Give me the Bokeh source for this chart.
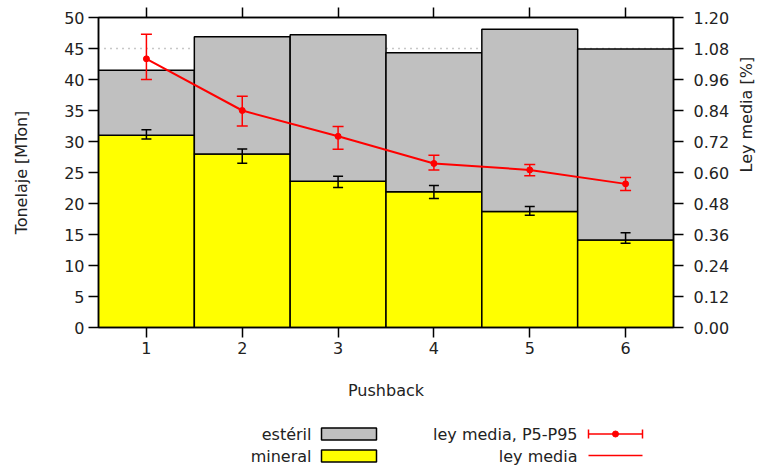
import math
from bokeh.plotting import figure
from bokeh.models import (Range1d, LinearAxis, FixedTicker, PrintfTickFormatter,
                          Span, Whisker, ColumnDataSource, TeeHead)
from bokeh.layouts import column
from bokeh.embed import file_html
from bokeh.resources import INLINE
from bokeh.core.properties import value

# Tonnage per pushback (Mt) and mean grade (%), with P5-P95 ranges
pushback = [1, 2, 3, 4, 5, 6]
mineral = [31.0, 28.0, 23.6, 21.9, 18.7, 14.1]
esteril = [10.5, 18.9, 23.6, 22.4, 29.4, 30.8]
mineral_p5 = [30.4, 26.5, 22.6, 20.8, 18.1, 13.6]
mineral_p95 = [31.9, 28.8, 24.4, 22.9, 19.5, 15.3]
ley_media = [1.04, 0.84, 0.74, 0.635, 0.61, 0.556]
ley_p5 = [0.96, 0.78, 0.69, 0.61, 0.587, 0.53]
ley_p95 = [1.135, 0.895, 0.778, 0.667, 0.631, 0.581]
capacidad = 45  # reference tonnage per pushback

left_ticks = [0, 5, 10, 15, 20, 25, 30, 35, 40, 45, 50]
right_ticks = [0.0, 0.12, 0.24, 0.36, 0.48, 0.60, 0.72, 0.84, 0.96, 1.08, 1.20]

FONT = "DejaVu Sans"
FS = "16px"
TXT = "#222222"
GRAY = "#c0c0c0"
YELLOW = "#ffff00"
RED = "#ff0000"

total = [m + e for m, e in zip(mineral, esteril)]

src = ColumnDataSource(dict(x=pushback, mineral=mineral, total=total,
                            m_lo=mineral_p5, m_hi=mineral_p95,
                            ley=ley_media, l_lo=ley_p5, l_hi=ley_p95))

p = figure(width=772, height=410, x_range=Range1d(0.5, 6.5), y_range=Range1d(0, 50),
           output_backend="svg", toolbar_location=None,
           min_border_left=98, min_border_right=99, min_border_top=17, min_border_bottom=83)
p.extra_y_ranges = {"ley": Range1d(0, 1.2)}
p.xgrid.visible = False
p.ygrid.visible = False
p.outline_line_color = "black"
p.outline_line_width = 1.5
p.background_fill_color = "white"
p.border_fill_color = "white"


def style_axis(ax, label_standoff, axis_standoff):
    ax.axis_line_color = "black"
    ax.axis_line_width = 1.5
    ax.major_tick_line_color = "black"
    ax.major_tick_line_width = 1.5
    ax.major_tick_in = 0
    ax.major_tick_out = 10
    ax.minor_tick_line_color = None
    ax.major_label_text_font = FONT
    ax.major_label_text_font_size = FS
    ax.major_label_text_color = TXT
    ax.major_label_standoff = label_standoff
    ax.axis_label_text_font = FONT
    ax.axis_label_text_font_size = FS
    ax.axis_label_text_font_style = "normal"
    ax.axis_label_text_color = TXT
    ax.axis_label_standoff = axis_standoff


xa = p.xaxis[0]
xa.ticker = FixedTicker(ticks=pushback)
xa.axis_label = "Pushback"
style_axis(xa, 4, 24)

ya = p.yaxis[0]
ya.ticker = FixedTicker(ticks=left_ticks)
ya.axis_label = "Tonelaje [MTon]"
style_axis(ya, 4, 30)

# grade axis on the right; its title reads bottom to top like the left one
ra = LinearAxis(y_range_name="ley", ticker=FixedTicker(ticks=right_ticks),
                formatter=PrintfTickFormatter(format="%.2f"), axis_label="Ley media [%]")
style_axis(ra, 10, 14)
ra.axis_label_orientation = math.pi / 2
ra.axis_label_text_baseline = "top"
p.add_layout(ra, "right")

# mirrored ticks on top, without labels
ta = LinearAxis(ticker=FixedTicker(ticks=pushback))
style_axis(ta, 0, 0)
ta.major_label_text_font_size = "1px"
ta.major_label_text_color = None
p.add_layout(ta, "above")

# dotted reference line behind the bars
p.add_layout(Span(location=capacidad, dimension="width", line_color="#909090",
                  line_width=1.5, line_dash="1 5", level="underlay"))

# stacked bars
p.vbar(x="x", width=1.0, bottom=0, top="mineral", source=src,
       fill_color=YELLOW, line_color="black", line_width=1.5)
p.vbar(x="x", width=1.0, bottom="mineral", top="total", source=src,
       fill_color=GRAY, line_color="black", line_width=1.5)

# mineral tonnage range
p.add_layout(Whisker(base="x", lower="m_lo", upper="m_hi", source=src, level="overlay",
                     line_color="black", line_width=1.5,
                     upper_head=TeeHead(size=10, line_color="black", line_width=1.5),
                     lower_head=TeeHead(size=10, line_color="black", line_width=1.5)))

# mean grade and its P5-P95 range
p.line(x="x", y="ley", source=src, y_range_name="ley", line_color=RED, line_width=2)
p.add_layout(Whisker(base="x", lower="l_lo", upper="l_hi", source=src, y_range_name="ley",
                     level="overlay", line_color=RED, line_width=1.5,
                     upper_head=TeeHead(size=11, line_color=RED, line_width=1.5),
                     lower_head=TeeHead(size=11, line_color=RED, line_width=1.5)))
p.scatter(x="x", y="ley", source=src, y_range_name="ley", size=6,
          fill_color=RED, line_color=RED)

# legend strip below; its frame lines up with the chart frame (pixels 98..673)
lg = figure(width=772, height=60, x_range=Range1d(98, 673), y_range=Range1d(60, 0),
            x_axis_type=None, y_axis_type=None,
            output_backend="svg", toolbar_location=None,
            min_border_left=98, min_border_right=99, min_border_top=0, min_border_bottom=0)
lg.grid.visible = False
lg.outline_line_color = None

row_y = [23.5, 45.5]
lg.text(x=[311, 311], y=row_y, text=["estéril", "mineral"], text_align="right",
        text_baseline="middle", text_font=value(FONT), text_font_size=FS, text_color=TXT)
lg.text(x=[577, 577], y=row_y, text=["ley media, P5-P95", "ley media"], text_align="right",
        text_baseline="middle", text_font=value(FONT), text_font_size=FS, text_color=TXT)
lg.quad(left=[321, 321], right=[376, 376], top=[17.5, 39.5], bottom=[29.5, 51.5],
        fill_color=[GRAY, YELLOW], line_color="black", line_width=1.5)
lg.segment(x0=[588, 588, 642, 588], y0=[23.5, 19, 19, 45], x1=[642, 588, 642, 642],
           y1=[23.5, 28, 28, 45], line_color=RED, line_width=1.5)
lg.scatter(x=[615], y=[23.5], size=6, fill_color=RED, line_color=RED)

layout = column(p, lg, spacing=0)
open("out.html", "w").write(file_html(layout, INLINE))
